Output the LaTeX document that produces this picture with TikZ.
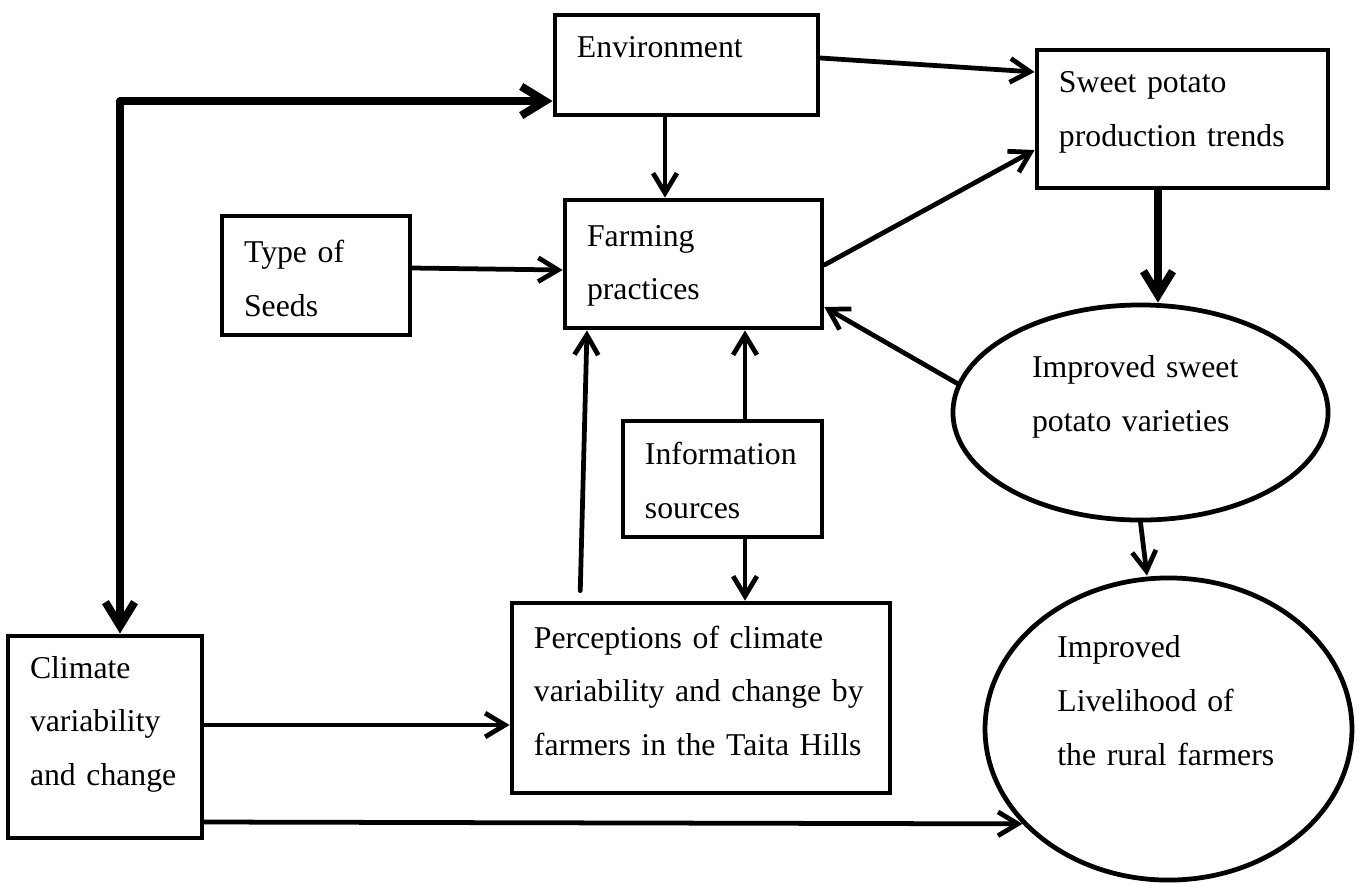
\documentclass[tikz,border=0pt]{standalone}
\usepackage{fontspec}
\setmainfont{Liberation Serif}
\usetikzlibrary{arrows.meta,shapes.geometric}

\begin{document}
\begin{tikzpicture}[x=0.378pt, y=-0.378pt]
    % Define styles
    \tikzset{box/.style={draw, line width=1.8pt, align=left, inner xsep=8.3pt, inner ysep=2pt, text height=8.2pt, font=\fontsize{12}{20.4}\selectfont}}
    \tikzset{oval/.style={draw, ellipse, line width=1.8pt, align=left, inner sep=2pt, text height=8.2pt, font=\fontsize{12}{20.4}\selectfont}}
    \tikzset{flow/.style={line width=1.8pt, line cap=round, ->, >={Straight Barb[length=7.5pt, width=9pt]}}}
    \tikzset{bigflow/.style={line width=3pt, line cap=round, >={Straight Barb[length=9pt, width=11pt]}}}

    \useasboundingbox (0,0) rectangle (1360,882);

    % Draw boxes
    \node[box, minimum width=99.4pt, minimum height=37.8pt, text width=82.8pt, text depth=14.2pt] (env) at (686.5,65) {Environment};
    \node[box, minimum width=110pt, minimum height=52.2pt, text width=93.4pt, text depth=27.9pt] (sweet) at (1182.5,119) {Sweet potato\\production trends};
    \node[box, minimum width=71.1pt, minimum height=45pt, text width=54.4pt, text depth=17.7pt] (seeds) at (316,275.5) {Type of\\Seeds};
    \node[box, minimum width=97.1pt, minimum height=48.4pt, text width=80.5pt, text depth=21.8pt] (farming) at (693.5,264) {Farming\\practices};
    \node[box, minimum width=75.2pt, minimum height=43.8pt, text width=58.6pt, text depth=18.8pt] (info) at (722.5,479) {Information\\sources};
    \node[box, minimum width=142.9pt, minimum height=71.8pt, text width=126.3pt, text depth=46pt] (perc) at (701,698) {Perceptions of climate\\variability and change by\\farmers in the Taita Hills};
    \node[box, minimum width=73.3pt, minimum height=76.4pt, text width=56.7pt, text depth=52.8pt] (climate) at (105,737) {Climate\\variability\\and change};

    % Draw ellipses
    \node[oval, minimum width=141.8pt, minimum height=81.3pt, text width=82pt, text depth=34.3pt] (varieties) at (1140.5,412.5) {Improved sweet\\potato varieties};
    \node[oval, minimum width=138.7pt, minimum height=114.2pt, text width=84pt, text depth=61.9pt] (livelihood) at (1168.5,729) {Improved\\Livelihood of\\the rural farmers};

    % Connect boxes
    \coordinate (bend) at (120,101);
    \draw[bigflow, <->, line join=round] (climate.north -| bend) -- (bend) -- (env.west |- bend);
    \draw[flow] (env.east |- 0,58) -- (sweet.west |- 0,72);
    \draw[flow] (env.south -| 665,0) -- (farming.north -| 665,0);
    \draw[flow] (seeds.east |- 0,268) -- (farming.west |- 0,270);
    \draw[flow] (farming.east |- 0,265) -- (sweet.west |- 0,150);
    \draw[bigflow, ->] (sweet.south -| 1158,0) -- (varieties.north -| 1158,0);
    \draw[flow] (varieties.171) -- (farming.east |- 0,307);
    \draw[flow] (info.north -| 745,0) -- (farming.south -| 745,0);
    \draw[flow] (info.south -| 745,0) -- (perc.north -| 745,0);
    \draw[flow, shorten <=3.8pt] (perc.north -| 580,0) -- (farming.south -| 587,0);
    \draw[flow] (climate.east |- 0,725) -- (perc.west |- 0,725);
    \draw[flow] (climate.east |- 0,822) -- (livelihood.213);
    \draw[flow] (varieties.south) -- (livelihood.north -| 1147,0);

\end{tikzpicture}
\end{document}
